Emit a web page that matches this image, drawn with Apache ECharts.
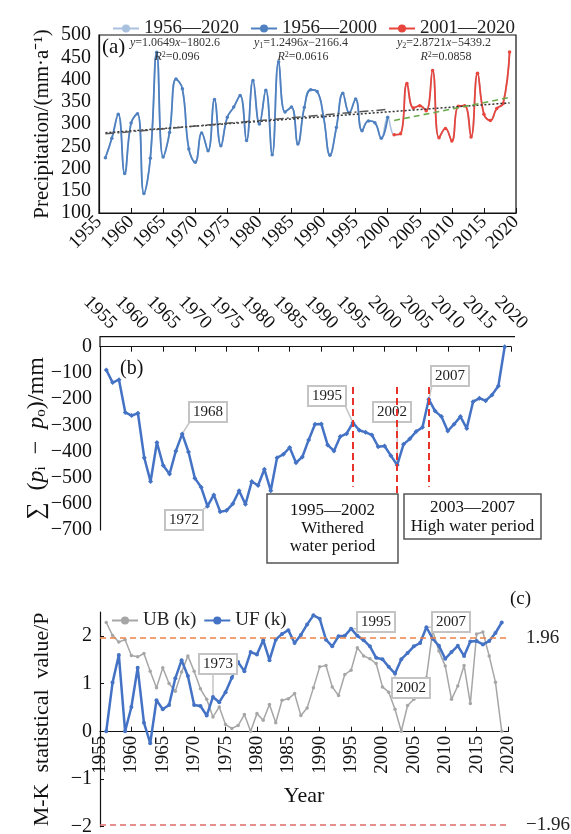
<!DOCTYPE html>
<html><head><meta charset="utf-8">
<script src="https://cdn.jsdelivr.net/npm/echarts@6/dist/echarts.min.js"></script>
<style>html,body{margin:0;padding:0;background:#fff}#c{width:571px;height:834px}</style>
</head><body><div id="c"></div>
<script>
// ---------------- DATA ----------------
const years = [1956,1957,1958,1959,1960,1961,1962,1963,1964,1965,1966,1967,1968,1969,1970,1971,1972,1973,1974,1975,
  1976,1977,1978,1979,1980,1981,1982,1983,1984,1985,1986,1987,1988,1989,1990,1991,1992,1993,1994,1995,
  1996,1997,1998,1999,2000,2001,2002,2003,2004,2005,2006,2007,2008,2009,2010,2011,2012,2013,2014,2015,
  2016,2017,2018,2019];
// (a) annual precipitation, mm/a
const precip = [224,268,322,189,302,323,144,223,461,226,281,401,379,244,214,280,240,355,251,315,
  338,364,263,398,300,376,231,440,327,338,255,337,377,373,316,230,292,369,325,356,
  285,307,303,268,315,276,278,391,336,341,330,420,269,290,262,340,341,271,414,322,
  308,335,346,462];
// (b) cumulative anomaly, mm
const cumAnomaly = [-89,-137,-126,-251,-263,-254,-424,-515,-366,-454,-486,-398,-333,-402,-502,-537,-609,-566,-630,-626,
  -600,-550,-602,-515,-530,-468,-550,-424,-411,-385,-443,-421,-356,-296,-295,-375,-398,-343,-332,-290,
  -319,-327,-337,-382,-379,-416,-452,-373,-352,-324,-308,-201,-246,-267,-322,-296,-267,-312,-210,-197,
  -206,-184,-150,0];
// (c) Mann-Kendall statistics
const ufValues = [0,1.02,1.60,0,0.51,1.33,0.18,-0.25,0.65,0.46,0.55,1.11,1.49,1.16,0.55,0.53,0.33,0.72,0.61,0.82,
  1.12,1.45,1.26,1.66,1.61,1.91,1.49,1.92,2.04,2.12,1.85,2.02,2.24,2.43,2.36,1.92,1.78,1.99,2.00,2.15,
  2.00,1.91,1.78,1.54,1.51,1.35,1.21,1.51,1.64,1.78,1.85,2.18,1.94,1.79,1.52,1.66,1.79,1.58,1.88,1.89,
  1.82,1.89,2.06,2.28];
const ubValues = [2.28,2.01,1.87,1.92,1.59,1.56,1.63,1.26,0.91,1.33,1.00,0.84,1.24,1.58,1.26,0.89,0.67,0.30,0.51,0.14,
  0.06,0.12,0.35,0.00,0.37,0.23,0.56,0.18,0.65,0.68,0.79,0.33,0.49,0.91,1.35,1.38,0.93,0.75,1.19,1.28,
  1.75,1.58,1.52,1.42,0.93,0.82,0.46,0.00,0.54,0.67,1.07,1.12,2.11,1.68,1.37,0.67,0.95,1.38,0.58,2.04,
  2.08,1.58,1.03,0.00];
const seriesNamesA = ['1956—2020','1956—2000','2001—2020'];
const splitYear = 2000;
const trendSlopes = [1.0649, 1.2496, 2.8721];
const trendIntercepts = [-1802.6, -2166.4, -5439.2];
const trendR2 = ['0.096', '0.0616', '0.0858'];
const trendRanges = [[1956, 2019], [1956, 2000], [2001, 2019]];
const calloutYearsB = [1968, 1972, 1995, 2002, 2007];
const calloutYearsC = [1973, 1995, 2002, 2007];
const periodYears = [1995, 2002, 2007];
const periodTexts = ['1995—2002\nWithered\nwater period', '2003—2007\nHigh water period'];
const criticalValue = 1.96;

// ---------------- LAYOUT / STYLE ----------------
const FONT = '"Liberation Serif","Times New Roman",serif';
const GA = {left:99, top:35, width:417, height:178};
const GB = {left:100, top:346.7, width:411, height:183.3};
const GC = {left:100, top:612, width:408, height:214.7};
const GC0 = {left:100, top:612, width:408, height:119.7};   // upper part of (c), down to the zero line
const calloutPosB = {1968:[208,412], 1972:[184,520], 1995:[327,396], 2002:[392,412], 2007:[450,376]};
const calloutPosC = {1973:[218,664], 1995:[376,622], 2002:[411,688], 2007:[451,622]};
const calloutBox = [36, 19];
const periodLineTop = -154, periodLineBottoms = [-535, -631, -535];
const eqCenters = [175, 301, 444];
const minus = v => String(v).replace('-', '\u2212');
const plain = v => String(v);

const calloutLabel = {
  show: true, fontFamily: FONT, fontSize: 15, color: '#222', backgroundColor: '#fff',
  borderColor: '#c4c4c4', borderWidth: 2, padding: [2, 3, 1, 3]
};
function withCallouts(vals, list) {
  return years.map((y, i) => list.indexOf(y) >= 0
    ? {value: [y, vals[i]], label: Object.assign({}, calloutLabel, {formatter: String(y)})}
    : [y, vals[i]]);
}
function layoutFor(pos) {
  return function (p) {
    const y = years[p.dataIndex];
    const q = pos[y];
    if (!q) return {};
    return {x: q[0], y: q[1], align: 'center', verticalAlign: 'middle'};
  };
}

const allData = years.map((y, i) => [y, precip[i]]);
const blueData = allData.filter(d => d[0] <= splitYear);
const redData = allData.filter(d => d[0] > splitYear);
const trendData = trendRanges.map((r, k) => r.map(x => [x, +(trendSlopes[k] * x + trendIntercepts[k]).toFixed(2)]));
const trendStyles = [
  {color: '#333', width: 1.5, type: [2, 2]},
  {color: '#555', width: 1.5, type: [9, 3, 2, 3]},
  {color: '#6aaa4a', width: 1.6, type: [6, 4]}
];

const axisLbl = (size) => ({fontFamily: FONT, fontSize: size, color: '#111'});
const blackLine = {lineStyle: {color: '#111', width: 1.2}};

const eqGraphics = [];
const richEq = {
  i: {fontFamily: FONT, fontSize: 12, fontStyle: 'italic', fill: '#333'},
  s: {fontFamily: FONT, fontSize: 8, fill: '#333', verticalAlign: 'bottom', padding: [6, 0, 0, 0]},
  p: {fontFamily: FONT, fontSize: 8, fill: '#333', verticalAlign: 'top', padding: [0, 0, 5, 0]},
  n: {fontFamily: FONT, fontSize: 12, fill: '#333'}
};
trendSlopes.forEach((s, k) => {
  const sub = k ? '{s|' + k + '}' : '';
  const eq = '{i|y}' + sub + '{n|=' + s.toFixed(4) + '}{i|x}{n|\u2212' + (-trendIntercepts[k]).toFixed(1) + '}';
  const r2 = '{i|R}{p|2}{n|=' + trendR2[k] + '}';
  eqGraphics.push({type: 'text', x: eqCenters[k], y: 43, z: 50,
    style: {text: eq, rich: richEq, align: 'center', verticalAlign: 'middle', fill: '#333', font: '12px ' + FONT}});
  eqGraphics.push({type: 'text', x: eqCenters[k] + 2, y: 57, z: 50,
    style: {text: r2, rich: richEq, align: 'center', verticalAlign: 'middle', fill: '#333', font: '12px ' + FONT}});
});

const gridBase = {outerBoundsMode: 'none', containLabel: false};
const option = {
  animation: false,
  backgroundColor: '#fff',
  textStyle: {fontFamily: FONT},
  legend: [
    {data: seriesNamesA, left: 107, top: 14, itemWidth: 26, itemHeight: 10, itemGap: 11,
     textStyle: {fontFamily: FONT, fontSize: 19, color: '#222'}},
    {data: ['UB (k)', 'UF (k)'], left: 106, top: 606, itemWidth: 26, itemHeight: 10, itemGap: 7,
     textStyle: {fontFamily: FONT, fontSize: 19, color: '#222'}}
  ],
  grid: [
    Object.assign({show: true, borderColor: '#111', borderWidth: 1.2, backgroundColor: 'transparent'}, gridBase, GA),
    Object.assign({}, gridBase, GB),
    Object.assign({}, gridBase, GC),
    Object.assign({}, gridBase, GC0)
  ],
  xAxis: [
    {gridIndex: 0, type: 'value', min: 1955, max: 2020, interval: 5, position: 'bottom',
     axisLine: blackLine, axisTick: {inside: true, length: 5, lineStyle: {color: '#111'}}, splitLine: {show: false},
     axisLabel: Object.assign(axisLbl(19), {rotate: 45, margin: 6, formatter: plain})},
    {gridIndex: 1, type: 'value', min: 1955, max: 2020, interval: 5, position: 'top',
     axisLine: Object.assign({onZero: false}, blackLine), axisTick: {inside: true, length: 5, lineStyle: {color: '#111'}},
     splitLine: {show: false},
     axisLabel: Object.assign(axisLbl(19), {rotate: 45, margin: 34, align: 'center', verticalAlign: 'middle', formatter: plain})},
    {gridIndex: 2, type: 'value', min: 1955, max: 2020, interval: 5, show: false},
    {gridIndex: 3, type: 'value', min: 1955, max: 2020, interval: 5, position: 'bottom',
     axisLine: Object.assign({onZero: false}, blackLine), axisTick: {inside: true, length: 5, lineStyle: {color: '#111'}},
     splitLine: {show: false}, axisLabel: Object.assign(axisLbl(19), {rotate: 90, margin: 4, formatter: plain}),
     name: 'Year', nameLocation: 'middle', nameGap: 54, nameMoveOverlap: false,
     nameTextStyle: {fontFamily: FONT, fontSize: 22, color: '#111'}}
  ],
  yAxis: [
    {gridIndex: 0, type: 'value', min: 100, max: 500, interval: 50,
     axisLine: blackLine, axisTick: {show: false}, splitLine: {show: false},
     axisLabel: Object.assign(axisLbl(20), {margin: 8}),
     name: 'Precipitation/(mm·a\u207B\u00B9)', nameLocation: 'middle', nameGap: 46, nameMoveOverlap: false,
     nameTextStyle: {fontFamily: FONT, fontSize: 21, color: '#111'}},
    {gridIndex: 1, type: 'value', min: -700, max: 0, interval: 100,
     axisLine: blackLine, axisTick: {show: false}, splitLine: {show: false},
     axisLabel: Object.assign(axisLbl(20), {margin: 8, formatter: minus}),
     name: '\u2211  ({i|p}{s|i}  \u2212  {i|p}{s|o})/mm', nameLocation: 'middle', nameGap: 51, nameMoveOverlap: false,
     nameTextStyle: {fontFamily: FONT, fontSize: 24, color: '#111',
       rich: {i: {fontFamily: FONT, fontSize: 24, fontStyle: 'italic', color: '#111'},
              s: {fontFamily: FONT, fontSize: 15, color: '#111', verticalAlign: 'bottom', padding: [9, 0, 0, 0]}}}},
    {gridIndex: 2, type: 'value', min: -2, max: 2.5, interval: 1,
     axisLine: blackLine, axisTick: {inside: true, length: 4, lineStyle: {color: '#111'}}, splitLine: {show: false},
     axisLabel: Object.assign(axisLbl(20), {margin: 8, showMaxLabel: false, formatter: minus}),
     name: 'M-K  statistical  value/P', nameLocation: 'middle', nameGap: 47, nameMoveOverlap: false,
     nameTextStyle: {fontFamily: FONT, fontSize: 22, color: '#111'}},
    {gridIndex: 3, type: 'value', min: 0, max: 2.5, show: false}
  ],
  series: [
    {name: seriesNamesA[0], type: 'line', xAxisIndex: 0, yAxisIndex: 0, data: allData, smooth: 0.45,
     symbol: 'none', lineStyle: {color: '#a9c1de', width: 1.6}, itemStyle: {color: '#a9c1de'}, z: 2},
    {name: seriesNamesA[1], type: 'line', xAxisIndex: 0, yAxisIndex: 0, data: blueData, smooth: 0.45,
     symbol: 'circle', symbolSize: 3.5, lineStyle: {color: '#4f80c0', width: 1.8}, itemStyle: {color: '#4f80c0'}, z: 3},
    {name: seriesNamesA[2], type: 'line', xAxisIndex: 0, yAxisIndex: 0, data: redData, smooth: 0.45,
     symbol: 'circle', symbolSize: 3.5, lineStyle: {color: '#e8453c', width: 1.8}, itemStyle: {color: '#e8453c'}, z: 3},
  ].concat(trendData.map((d, k) => ({
    name: 'trend' + k, type: 'line', xAxisIndex: 0, yAxisIndex: 0, data: d, symbol: 'none', silent: true,
    lineStyle: trendStyles[k], itemStyle: {color: trendStyles[k].color}, z: 4
  }))).concat([
    {name: 'cum', type: 'line', xAxisIndex: 1, yAxisIndex: 1, data: withCallouts(cumAnomaly, calloutYearsB),
     symbol: 'diamond', symbolSize: 5, showSymbol: true,
     lineStyle: {color: '#4472c4', width: 2.5}, itemStyle: {color: '#4472c4'},
     label: {show: false}, labelLayout: layoutFor(calloutPosB),
     markLine: {silent: true, symbol: ['none', 'none'], label: {show: false},
       lineStyle: {color: '#e8332a', width: 2, type: [7, 4]},
       data: periodYears.map((yr, k) => [{coord: [yr, periodLineTop]}, {coord: [yr, periodLineBottoms[k]]}])}},
    {name: 'UB (k)', type: 'line', xAxisIndex: 2, yAxisIndex: 2, data: years.map((y, i) => [y, ubValues[i]]),
     symbol: 'circle', symbolSize: 3.5, lineStyle: {color: '#a6a6a6', width: 1.5}, itemStyle: {color: '#a6a6a6'}, z: 2},
    {name: 'UF (k)', type: 'line', xAxisIndex: 2, yAxisIndex: 2, data: withCallouts(ufValues, calloutYearsC),
     symbol: 'circle', symbolSize: 4, lineStyle: {color: '#4472c4', width: 2.5}, itemStyle: {color: '#4472c4'}, z: 3,
     label: {show: false}, labelLayout: layoutFor(calloutPosC),
     markLine: {silent: true, symbol: ['none', 'none'],
       label: {position: 'end', distance: 18, fontFamily: FONT, fontSize: 19, color: '#222'},
       data: [
         {yAxis: criticalValue, lineStyle: {color: '#ee8345', width: 1.5, type: [6, 4]}, label: {formatter: String(criticalValue)}},
         {yAxis: -criticalValue, lineStyle: {color: '#e06b6b', width: 1.5, type: [6, 4]}, label: {formatter: minus(-criticalValue)}}
       ]}}
  ]),
  graphic: [
    {type: 'text', left: 102, top: 37, z: 50, style: {text: '(a)', font: '21px ' + FONT, fill: '#111'}},
    {type: 'text', left: 120, top: 359, z: 50, style: {text: '(b)', font: '20px ' + FONT, fill: '#111'}},
    {type: 'text', left: 510, top: 590, z: 50, style: {text: '(c)', font: '19px ' + FONT, fill: '#111'}},
    {type: 'polyline', z: 50, shape: {points: [[GB.left, GB.top], [GB.left, GB.top - 10], [GB.left + GB.width + 4, GB.top - 10]]},
     style: {stroke: '#111', lineWidth: 1.2, fill: null}},
    {type: 'rect', z: 40, shape: {x: 267, y: 494, width: 131, height: 69}, style: {fill: '#fff', stroke: '#555', lineWidth: 1.5}},
    {type: 'text', z: 41, x: 332.5, y: 529, style: {text: periodTexts[0], font: '17px ' + FONT, fill: '#111',
      align: 'center', verticalAlign: 'middle', lineHeight: 18}},
    {type: 'rect', z: 40, shape: {x: 404, y: 494, width: 137, height: 45}, style: {fill: '#fff', stroke: '#555', lineWidth: 1.5}},
    {type: 'text', z: 41, x: 472.5, y: 517, style: {text: periodTexts[1], font: '17px ' + FONT, fill: '#111',
      align: 'center', verticalAlign: 'middle', lineHeight: 19}}
  ].concat(eqGraphics)
};
const chart = echarts.init(document.getElementById('c'), null, {renderer: 'canvas', width: 571, height: 834});
chart.setOption(option);

// leader lines from each annotated point to its callout box
function leaders(yearsList, vals, pos, axisIdx) {
  return yearsList.map(yr => {
    const i = years.indexOf(yr);
    const p = chart.convertToPixel({xAxisIndex: axisIdx, yAxisIndex: axisIdx}, [yr, vals[i]]);
    const c = pos[yr];
    const hw = calloutBox[0] / 2, hh = calloutBox[1] / 2;
    const bx = Math.min(Math.max(p[0], c[0] - hw), c[0] + hw);
    const by = Math.min(Math.max(p[1], c[1] - hh), c[1] + hh);
    return {type: 'line', z: 1, silent: true, shape: {x1: p[0], y1: p[1], x2: bx, y2: by},
      style: {stroke: '#c4c4c4', lineWidth: 1.5}};
  });
}
const extra = leaders(calloutYearsB, cumAnomaly, calloutPosB, 1).concat(leaders(calloutYearsC, ufValues, calloutPosC, 2));
chart.setOption({graphic: option.graphic.concat(extra)});
</script></body></html>
